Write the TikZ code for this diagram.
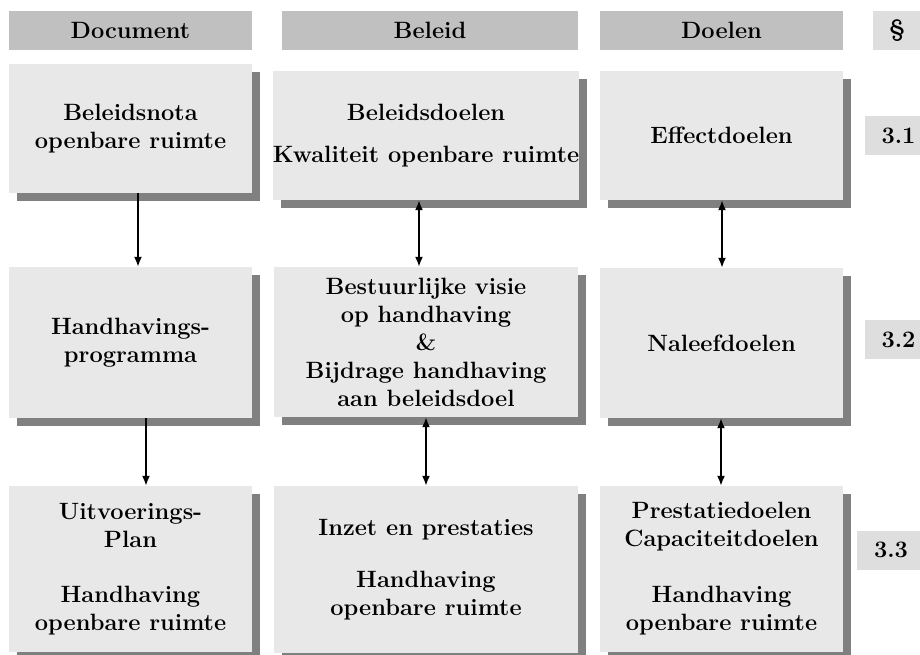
\documentclass[tikz,border=0pt]{standalone}
\usetikzlibrary{arrows.meta,shadows}

\definecolor{headgray}{RGB}{192,192,192}
\definecolor{cellgray}{RGB}{232,232,232}
\definecolor{shadegray}{RGB}{128,128,128}
\definecolor{secgray}{RGB}{222,222,222}

\begin{document}
\begin{tikzpicture}[x=1pt,y=-1pt,
  txt/.style={font=\fontsize{23.6}{28}\selectfont\bfseries, align=center, text=black},
  head/.style={txt, rectangle, fill=headgray, inner sep=0pt, minimum height=39pt},
  sec/.style={txt, rectangle, fill=secgray, inner sep=0pt, minimum height=39pt},
  cell/.style={txt, rectangle, fill=cellgray, inner sep=0pt,
    drop shadow={shadow xshift=8pt, shadow yshift=-8pt, fill=shadegray, opacity=1}},
  link/.style={-{Latex[length=10pt,width=8pt]}, line width=1.7pt},
  biglink/.style={{Latex[length=10pt,width=8pt]}-{Latex[length=10pt,width=8pt]}, line width=1.7pt}]

\useasboundingbox (0,0) rectangle (920,655);
\clip (0,0) rectangle (920,655);
\fill[white] (0,0) rectangle (920,655);

% column headers
\node[head, minimum width=243pt] (hdoc) at (130.5,30.5) {Document};
\node[head, minimum width=296pt] (hbel) at (430,30.5) {Beleid};
\node[head, minimum width=243pt] (hdoel) at (721.5,30.5) {Doelen};
\node[sec, minimum width=48pt] (hpar) at (897,30.5) {\S};

% row 1
\node[cell, minimum width=243pt, minimum height=129pt] (d1) at (130.5,128.5)
  {Beleidsnota\\openbare ruimte};
\node[cell, minimum width=304pt, minimum height=129pt] (b1) at (426,135.5)
  {Beleidsdoelen\\[14pt]Kwaliteit openbare ruimte};
\node[cell, minimum width=243pt, minimum height=129pt] (g1) at (721.5,135.5)
  {Effectdoelen};

% row 2
\node[cell, minimum width=243pt, minimum height=151pt] (d2) at (130.5,342.5)
  {Handhavings-\\programma};
\node[cell, minimum width=304pt, minimum height=150pt] (b2) at (426,342)
  {Bestuurlijke visie\\op handhaving\\\&\\Bijdrage handhaving\\aan beleidsdoel};
\node[cell, minimum width=243pt, minimum height=150pt] (g2) at (721.5,343)
  {Naleefdoelen};

% row 3
\node[cell, minimum width=243pt, minimum height=166pt] (d3) at (130.5,569)
  {Uitvoerings-\\Plan\\[27pt]Handhaving\\openbare ruimte};
\node[cell, minimum width=304pt, minimum height=167pt] (b3) at (426,569.5)
  {Inzet en prestaties\\[24pt]Handhaving\\openbare ruimte};
\node[cell, minimum width=243pt, minimum height=166pt] (g3) at (721.5,569)
  {Prestatiedoelen\\Capaciteitdoelen\\[28pt]Handhaving\\openbare ruimte};

% paragraph numbers
\node[sec, minimum width=67pt] (p1) at (898.5,135.5) {3.1};
\node[sec, minimum width=67pt] (p2) at (898.5,339.5) {3.2};
\node[sec, minimum width=68pt] (p3) at (891,550) {3.3};

% connectors
\draw[link] ([xshift=7.5pt]d1.south) -- ([xshift=7.5pt]d2.north);
\draw[link] ([xshift=15.5pt]d2.south) -- ([xshift=15.5pt]d3.north);
\draw[biglink] ([xshift=-7pt]b1.south) -- ([xshift=-7pt]b2.north);
\draw[biglink] (b2.south) -- (b3.north);
\draw[biglink] ([xshift=0.5pt]g1.south) -- ([xshift=0.5pt]g2.north);
\draw[biglink] ([xshift=-0.5pt]g2.south) -- ([xshift=-0.5pt]g3.north);

\end{tikzpicture}
\end{document}
